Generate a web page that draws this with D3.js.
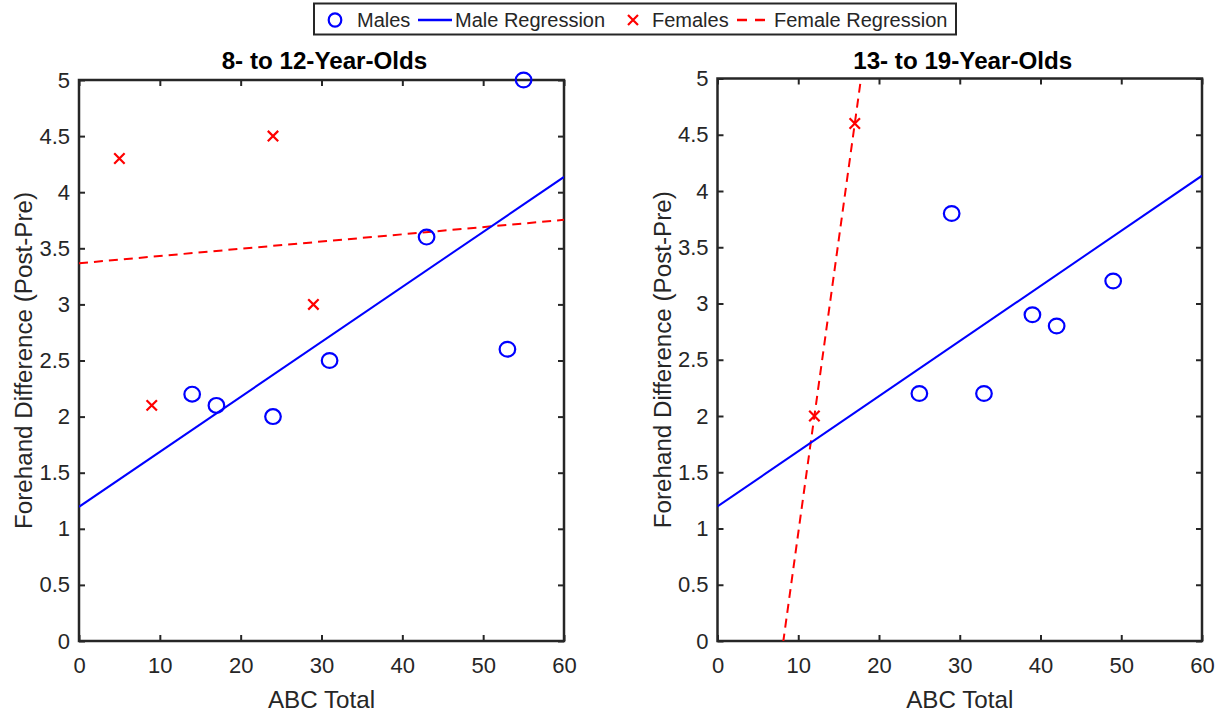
<!DOCTYPE html>
<html>
<head>
<meta charset="utf-8">
<script src="https://cdn.jsdelivr.net/npm/d3@7"></script>
<style>
  html, body { margin: 0; padding: 0; background: #fff; }
  svg { display: block; }
  text { font-family: "Liberation Sans", Arial, Helvetica, sans-serif; fill: #262626; }
</style>
</head>
<body>
<svg id="chart" width="1225" height="715"></svg>
<script>
// ---------------- data ----------------
const panelTitles = ["8- to 12-Year-Olds", "13- to 19-Year-Olds"];
const xLabel = "ABC Total";
const yLabel = "Forehand Difference (Post-Pre)";
const legendLabels = ["Males", "Male Regression", "Females", "Female Regression"];

const xTickValues = [0, 10, 20, 30, 40, 50, 60];
const xTickLabels = ["0", "10", "20", "30", "40", "50", "60"];
const yTickValues = [0, 0.5, 1, 1.5, 2, 2.5, 3, 3.5, 4, 4.5, 5];
const yTickLabels = ["0", "0.5", "1", "1.5", "2", "2.5", "3", "3.5", "4", "4.5", "5"];

// 8- to 12-year-olds
const malesABC1 = [14, 17, 24, 31, 43, 53, 55];
const malesDiff1 = [2.2, 2.1, 2.0, 2.5, 3.6, 2.6, 5.0];
const femalesABC1 = [5, 9, 24, 29];
const femalesDiff1 = [4.3, 2.1, 4.5, 3.0];

// 13- to 19-year-olds
const malesABC2 = [25, 29, 33, 39, 42, 49];
const malesDiff2 = [2.2, 3.8, 2.2, 2.9, 2.8, 3.2];
const femalesABC2 = [12, 17];
const femalesDiff2 = [2.0, 4.6];

// regression lines (intercept, slope) per panel
const maleFitIntercept = [1.196, 1.196];
const maleFitSlope = [0.0490, 0.0490];
const femaleFitIntercept = [3.367, -4.24];
const femaleFitSlope = [0.00644, 0.52];

// ---------------- layout ----------------
const svg = d3.select("#chart");
const AX = "#262626";
const BLUE = "#0000FF";
const RED = "#FF0000";
const tickFont = 22, labelFont = 24.2, legendFont = 20;

const panels = [
  { left: 79, right: 564, top: 80, bottom: 641,
    mx: malesABC1, my: malesDiff1, fx: femalesABC1, fy: femalesDiff1 },
  { left: 717.5, right: 1202, top: 78.5, bottom: 641,
    mx: malesABC2, my: malesDiff2, fx: femalesABC2, fy: femalesDiff2 }
];

const xDomain = [xTickValues[0], xTickValues[xTickValues.length - 1]];
const yDomain = [yTickValues[0], yTickValues[yTickValues.length - 1]];

const defs = svg.append("defs");

panels.forEach((p, i) => {
  const x = d3.scaleLinear().domain(xDomain).range([p.left, p.right]);
  const y = d3.scaleLinear().domain(yDomain).range([p.bottom, p.top]);
  const g = svg.append("g");

  defs.append("clipPath").attr("id", "clip" + i)
    .append("rect")
    .attr("x", p.left).attr("y", p.top)
    .attr("width", p.right - p.left).attr("height", p.bottom - p.top);

  const tick = 6;
  const xfmt = (d) => xTickLabels[xTickValues.indexOf(d)];
  const yfmt = (d) => yTickLabels[yTickValues.indexOf(d)];

  const axB = g.append("g").attr("transform", `translate(0,${p.bottom})`)
    .call(d3.axisBottom(x).tickValues(xTickValues).tickFormat(xfmt).tickSize(-tick).tickPadding(16));
  const axT = g.append("g").attr("transform", `translate(0,${p.top})`)
    .call(d3.axisTop(x).tickValues(xTickValues).tickFormat("").tickSize(-tick));
  const axL = g.append("g").attr("transform", `translate(${p.left},0)`)
    .call(d3.axisLeft(y).tickValues(yTickValues).tickFormat(yfmt).tickSize(-tick).tickPadding(9));
  const axR = g.append("g").attr("transform", `translate(${p.right},0)`)
    .call(d3.axisRight(y).tickValues(yTickValues).tickFormat("").tickSize(-tick));

  [axB, axT, axL, axR].forEach(a => {
    a.select(".domain").remove();
    a.selectAll(".tick line").attr("stroke", AX).attr("stroke-width", 2);
    a.selectAll(".tick text")
      .attr("fill", AX)
      .style("font-family", '"Liberation Sans", Arial, sans-serif')
      .style("font-size", tickFont + "px");
  });

  g.append("rect")
    .attr("x", p.left).attr("y", p.top)
    .attr("width", p.right - p.left).attr("height", p.bottom - p.top)
    .attr("fill", "none").attr("stroke", AX).attr("stroke-width", 2.5);

  const line = d3.line().x(d => x(d[0])).y(d => y(d[1]));
  const maleLine = xDomain.map(v => [v, maleFitIntercept[i] + maleFitSlope[i] * v]);
  const femaleLine = xDomain.map(v => [v, femaleFitIntercept[i] + femaleFitSlope[i] * v]);

  g.append("path").datum(femaleLine)
    .attr("clip-path", `url(#clip${i})`)
    .attr("d", line).attr("fill", "none")
    .attr("stroke", RED).attr("stroke-width", 2).attr("stroke-dasharray", "9,6");
  g.append("path").datum(maleLine)
    .attr("clip-path", `url(#clip${i})`)
    .attr("d", line).attr("fill", "none")
    .attr("stroke", BLUE).attr("stroke-width", 2);

  g.append("g").selectAll("ellipse")
    .data(p.mx.map((v, k) => [v, p.my[k]]))
    .join("ellipse")
    .attr("cx", d => x(d[0])).attr("cy", d => y(d[1]))
    .attr("rx", 7.8).attr("ry", 7.4).attr("fill", "none")
    .attr("stroke", BLUE).attr("stroke-width", 2.2);

  const s = 5.2;
  g.append("g").selectAll("path")
    .data(p.fx.map((v, k) => [v, p.fy[k]]))
    .join("path")
    .attr("d", d => {
      const cx = x(d[0]), cy = y(d[1]);
      return `M${cx - s},${cy - s}L${cx + s},${cy + s}M${cx - s},${cy + s}L${cx + s},${cy - s}`;
    })
    .attr("fill", "none").attr("stroke", RED).attr("stroke-width", 2.2);

  g.append("text")
    .attr("x", (p.left + p.right) / 2 + 3).attr("y", 69)
    .attr("text-anchor", "middle")
    .style("font-size", labelFont + "px").style("font-weight", "bold")
    .style("fill", "#000")
    .text(panelTitles[i]);

  g.append("text")
    .attr("x", (p.left + p.right) / 2).attr("y", 708)
    .attr("text-anchor", "middle")
    .style("font-size", labelFont + "px")
    .text(xLabel);

  const ly = (p.top + p.bottom) / 2;
  const lx = p.left - 47;
  g.append("text")
    .attr("transform", `translate(${lx},${ly}) rotate(-90)`)
    .attr("text-anchor", "middle")
    .style("font-size", labelFont + "px")
    .text(yLabel);
});

// ---------------- legend ----------------
const lg = svg.append("g");
lg.append("rect")
  .attr("x", 314).attr("y", 3.5).attr("width", 642).attr("height", 31)
  .attr("fill", "#fff").attr("stroke", AX).attr("stroke-width", 2);

const ly0 = 20;
lg.append("ellipse").attr("cx", 335).attr("cy", ly0).attr("rx", 6.3).attr("ry", 6.6)
  .attr("fill", "none").attr("stroke", BLUE).attr("stroke-width", 2.2);
lg.append("text").attr("x", 357).attr("y", ly0 + 7).style("font-size", legendFont + "px").text(legendLabels[0]);
lg.append("line").attr("x1", 418).attr("x2", 452).attr("y1", ly0).attr("y2", ly0)
  .attr("stroke", BLUE).attr("stroke-width", 2.4);
lg.append("text").attr("x", 455).attr("y", ly0 + 7).style("font-size", legendFont + "px").text(legendLabels[1]);
const ls = 5, lcx = 633;
lg.append("path")
  .attr("d", `M${lcx - ls},${ly0 - ls}L${lcx + ls},${ly0 + ls}M${lcx - ls},${ly0 + ls}L${lcx + ls},${ly0 - ls}`)
  .attr("stroke", RED).attr("stroke-width", 2.2).attr("fill", "none");
lg.append("text").attr("x", 652).attr("y", ly0 + 7).style("font-size", legendFont + "px").text(legendLabels[2]);
lg.append("line").attr("x1", 737).attr("x2", 766).attr("y1", ly0).attr("y2", ly0)
  .attr("stroke", RED).attr("stroke-width", 2.4).attr("stroke-dasharray", "10,8");
lg.append("text").attr("x", 774).attr("y", ly0 + 7).style("font-size", legendFont + "px").text(legendLabels[3]);
</script>
</body>
</html>
